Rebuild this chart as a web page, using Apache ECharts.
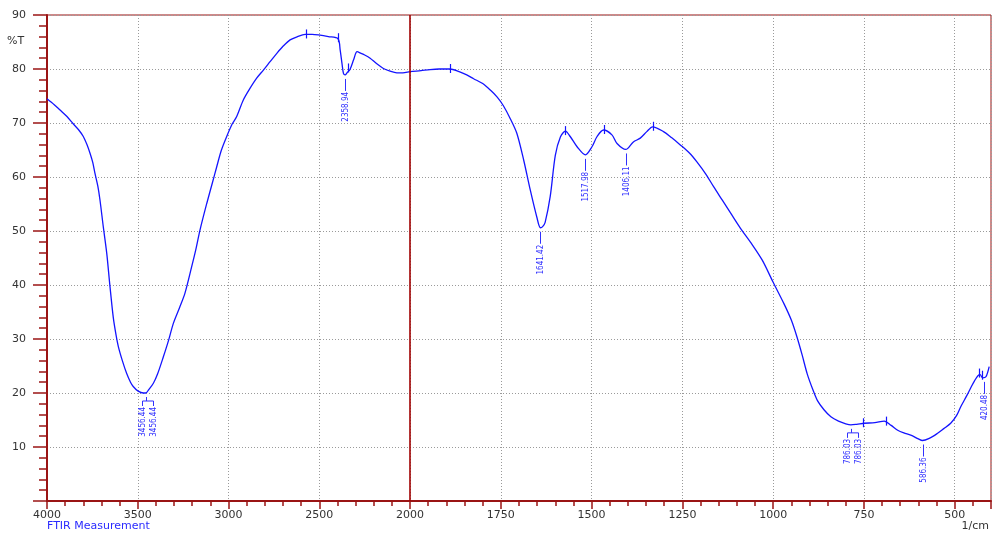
<!DOCTYPE html>
<html>
<head>
<meta charset="utf-8">
<script src="https://cdn.jsdelivr.net/npm/echarts@6/dist/echarts.min.js"></script>
<style>
html,body{margin:0;padding:0;background:#fff;}
#chart{width:993px;height:535px;}
</style>
</head>
<body>
<div id="chart"></div>
<script>
// Wavenumber (1/cm) and transmittance (%T)
const wavenumbers = [4000,3960,3928,3890,3857,3825,3800,3780,3763,3748,3736,3720,3708,3690,3671,3653,3635,3620,3607,3585,3561,3540,3525,3500,3469,3456,3440,3414,3390,3359,3330,3304,3270,3240,3203,3180,3157,3120,3090,3065,3040,3010,2980,2955,2918,2882,2845,2808,2770,2734,2700,2661,2620,2578,2540,2505,2450,2397,2385,2375,2367,2358,2345,2331,2310,2292,2270,2250,2220,2185,2147,2110,2073,2040,2000,1970,1945,1920,1890,1865,1844,1825,1800,1779,1760,1743,1724,1706,1687,1669,1651,1641,1635,1628,1614,1600,1586,1572,1559,1540,1517,1499,1485,1467,1444,1430,1406,1385,1366,1348,1332,1302,1280,1255,1230,1210,1185,1164,1140,1117,1090,1060,1030,1000,970,950,935,920,906,890,878,860,841,820,800,786,770,749,720,694,675,657,640,621,600,589,570,548,530,511,495,483,466,454,445,436,430,423,414,405];
const transmittance = [74.5,73.4,72.4,71.2,69.9,68.7,67.5,66.0,64.4,62.7,60.7,58.3,55.7,50.8,45.9,39.7,34.0,30.8,28.6,26.0,23.6,22.0,21.2,20.4,20.0,20.0,20.6,21.8,23.6,26.7,29.8,32.9,35.8,38.5,43.4,46.6,50.2,55.1,58.8,61.9,64.9,67.5,69.8,71.2,74.3,76.4,78.3,79.8,81.4,82.9,84.2,85.4,86.0,86.4,86.4,86.3,86.0,85.6,83.5,81.0,79.2,78.9,79.4,79.9,81.8,83.2,82.9,82.6,82.0,81.0,80.1,79.6,79.3,79.3,79.5,79.7,79.9,80.0,80.0,79.5,78.9,78.2,77.3,76.1,74.8,73.2,70.8,68.1,63.1,57.6,52.6,50.6,50.8,51.6,56.4,64.0,67.4,68.5,67.5,65.6,64.1,65.6,67.5,68.7,67.8,66.2,65.1,66.5,67.2,68.4,69.3,68.4,67.3,65.9,64.4,62.8,60.5,58.2,55.7,53.3,50.5,47.7,44.6,40.5,36.5,33.5,30.5,27.0,23.5,20.5,18.6,16.9,15.6,14.8,14.3,14.1,14.2,14.4,14.5,14.8,14.0,13.1,12.6,12.2,11.5,11.2,11.6,12.5,13.4,14.4,15.8,17.5,19.6,21.2,22.3,23.2,23.4,22.8,23.0,24.9];

// Labelled absorption peaks (minima)
const peakLabelText = ['3456.44','2358.94','1641.42','1517.98','1406.11','786.03','586.36','420.48'];
const peakLabelWave = [3456.44,2358.94,1641.42,1517.98,1406.11,786.03,586.36,420.48];
const peakLabelT    = [20.0,78.9,50.6,64.1,65.1,14.1,11.2,22.8];
const peakLabelDouble = [1,0,0,0,0,1,0,0];

// Small vertical markers at local maxima
const markWave = [2573,2397,2340,1890,1572,1467,1332,753,690,432,425];
const markT    = [86.4,85.7,80.1,80.0,68.5,68.7,69.3,14.4,14.7,23.6,23.2];

// X axis tick labels (1/cm)
const xTickLabels = ['4000','3500','3000','2500','2000','1750','1500','1250','1000','750','500'];

// Piecewise axis: 4000-2000 compressed, 2000-400 expanded 2x
function toT(w){ return w >= 2000 ? 4000 - w : 2000 + (2000 - w) * 2; }

const lineData = wavenumbers.map((w,i)=>[toT(w), transmittance[i]]);
const labelData = peakLabelWave.map((w,i)=>[toT(w), peakLabelT[i]]);
const markData = markWave.map((w,i)=>[toT(w), markT[i]]);

const AXIS_RED = '#9a1414';
const BLUE = '#1414ff';
const LBL_BLUE = '#3030ff';
const FONT = '"DejaVu Sans", sans-serif';

const chart = echarts.init(document.getElementById('chart'), null, {renderer:'canvas'});
chart.setOption({
  animation: false,
  backgroundColor: '#fff',
  grid: {left:47, right:2, top:15, bottom:34, show:true, borderColor:AXIS_RED, borderWidth:1, backgroundColor:'transparent'},
  xAxis: {
    type:'value', min:0, max:5200, interval:500,
    axisLine:{show:true, onZero:false, lineStyle:{color:AXIS_RED, width:2}},
    axisTick:{show:true, length:8, lineStyle:{color:AXIS_RED, width:1.5}},
    minorTick:{show:true, splitNumber:5, length:5, lineStyle:{color:AXIS_RED, width:1.5}},
    axisLabel:{
      formatter: v => { const k = Math.round(v/500); return (v % 500 === 0 && k < xTickLabels.length) ? xTickLabels[k] : ''; },
      color:'#333', fontSize:11, fontFamily:FONT, margin:9, showMaxLabel:false
    },
    splitLine:{show:true, lineStyle:{color:'#9a9a9a', type:[1,2], width:1}}
  },
  yAxis: {
    type:'value', min:0, max:90, interval:10,
    axisLine:{show:true, onZero:false, lineStyle:{color:AXIS_RED, width:2}},
    axisTick:{show:true, length:14, lineStyle:{color:AXIS_RED, width:1.5}},
    minorTick:{show:true, splitNumber:5, length:8, lineStyle:{color:AXIS_RED, width:1.5}},
    axisLabel:{formatter: v => v === 0 ? '' : String(v), color:'#333', fontSize:11, fontFamily:FONT, margin:21},
    splitLine:{show:true, lineStyle:{color:'#9a9a9a', type:[1,2], width:1}}
  },
  graphic: [
    {type:'text', left:7, top:36, style:{text:'%T', fill:'#333', font:'11px ' + FONT}},
    {type:'text', left:47, top:521, style:{text:'FTIR Measurement', fill:'#2a2aff', font:'11px ' + FONT}},
    {type:'text', right:4, top:521, style:{text:'1/cm', fill:'#333', font:'11px ' + FONT}}
  ],
  series: [
    {
      type:'line', data:lineData, showSymbol:false, symbol:'none', smooth:0.3,
      lineStyle:{color:BLUE, width:1.3}, z:3, silent:true,
      markLine:{
        silent:true, symbol:'none', animation:false,
        label:{show:false},
        lineStyle:{color:'#a00000', width:1.6, type:'solid'},
        data:[{xAxis:2000}]
      }
    },
    {
      type:'custom', data:markData, z:4, silent:true,
      renderItem:(params, api) => {
        const p = api.coord([api.value(0), api.value(1)]);
        const x = Math.round(p[0]) + 0.5;
        return {type:'line', shape:{x1:x, y1:p[1]-5, x2:x, y2:p[1]+4}, style:{stroke:BLUE, lineWidth:1.2}};
      }
    },
    {
      type:'custom', data:labelData, z:4, silent:true,
      renderItem:(params, api) => {
        const i = params.dataIndex;
        const p = api.coord([api.value(0), api.value(1)]);
        const x = Math.round(p[0]) + 0.5, y = p[1];
        const txt = peakLabelText[i];
        const mk = (tx, ty) => ({type:'text', x:tx, y:ty, rotation:Math.PI/2,
          style:{text:txt, fill:LBL_BLUE, font:'8px "DejaVu Sans Condensed", "DejaVu Sans", sans-serif', align:'right', verticalAlign:'middle'}});
        const ln = (x1,y1,x2,y2) => ({type:'line', shape:{x1,y1,x2,y2}, style:{stroke:LBL_BLUE, lineWidth:1}});
        const children = [];
        if (!peakLabelDouble[i]) {
          children.push(ln(x, y+4, x, y+16));
          children.push(mk(x, y+17));
        } else {
          children.push(ln(x, y+4, x, y+8));
          children.push(ln(x-4, y+8, x+7, y+8));
          children.push(ln(x-4, y+8, x-4, y+13));
          children.push(ln(x+7, y+8, x+7, y+13));
          children.push(mk(x-4, y+14));
          children.push(mk(x+7, y+14));
        }
        return {type:'group', children};
      }
    }
  ]
});
</script>
</body>
</html>
